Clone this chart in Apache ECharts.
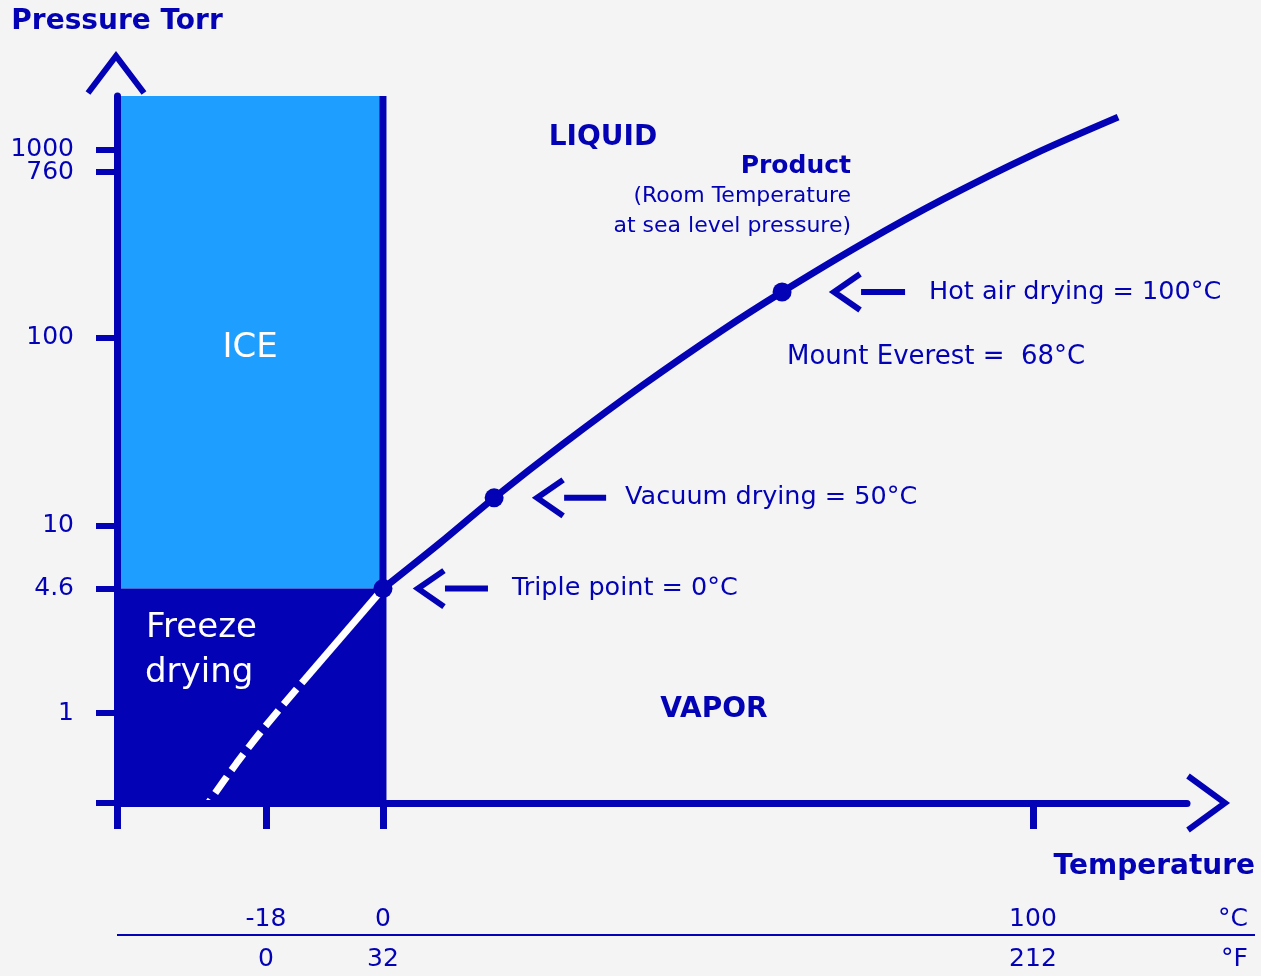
<!DOCTYPE html>
<html>
<head>
<meta charset="utf-8">
<script src="https://cdn.jsdelivr.net/npm/echarts@6/dist/echarts.min.js"></script>
<style>
html,body{margin:0;padding:0;background:#f4f4f4;}
#chart{width:1261px;height:976px;}
</style>
</head>
<body>
<div id="chart"></div>
<script>
// ---------- data ----------
const pressureTicks = [1, 4.6, 10, 100, 760, 1000];            // Torr
const pressureTickLabels = ['1', '4.6', '10', '100', '760', '1000'];
const celsiusTicks = [-18, 0, 100];
const celsiusTickLabels = ['-18', '0', '100'];
const fahrenheitTickLabels = ['0', '32', '212'];

// vaporization curve (schematic)
const vaporTemp = [0, 8.77, 17.1, 27.7, 40.0, 52.3, 61.4, 73.9, 86.2, 100.0, 113.1];
const vaporPressure = [4.6, 8.05, 14.0, 27.1, 55.9, 110, 175, 318, 546, 944, 1494];

// sublimation curve (white, below triple point)
const sublSolidTemp = [0, -12.5];
const sublSolidPressure = [4.6, 1.445];
const sublDashTemp = [-12.5, -18.2, -22.5, -26.9];
const sublDashPressure = [1.445, 0.842, 0.542, 0.331];

// marked points with callouts
const calloutNames = ['Triple point = 0°C', 'Vacuum drying = 50°C', 'Hot air drying = 100°C'];
const calloutTemp = [0, 17.1, 61.4];
const calloutPressure = [4.6, 14.0, 175];

// axis extents
const tempMin = -40.92, tempMax = 123.7;
const pressureMin = 0.3316, pressureMax = 1936;
const triplePressure = 4.6, tripleTemp = 0;

// ---------- helpers / styles ----------
const DARK = '#0303b5', LIGHT = '#1e9eff', BG = '#f4f4f4';
const FONT = '"DejaVu Sans", sans-serif';
const L = v => Math.round(Math.log10(v) * 1e9) / 1e9;
const yMin = L(pressureMin), yMax = L(pressureMax);
const pair = (ts, ps) => ts.map((t, i) => [t, L(ps[i])]);
const labelFor = v => {
  const i = pressureTicks.findIndex(p => Math.abs(L(p) - v) < 1e-6);
  return i < 0 ? '' : pressureTickLabels[i];
};
// 760 sits very close to 1000, so it is drawn by a twin axis to avoid label culling
const crowded = [760];
const mainTicks = pressureTicks.filter(p => crowded.indexOf(p) < 0);
const calloutOffsets = [
  {tip: 35, end: 105, text: 129},
  {tip: 43, end: 112, text: 131},
  {tip: 52, end: 123, text: 147}
];
const regions = [
  {bounds: [tempMin, tripleTemp, L(triplePressure), yMax], color: LIGHT},
  {bounds: [tempMin, tripleTemp, yMin, L(triplePressure)], color: DARK}
];

const chart = echarts.init(document.getElementById('chart'), null, {renderer: 'canvas'});

const yLabelStyle = {color: DARK, fontFamily: FONT, fontSize: 25};

const option = {
  backgroundColor: BG,
  animation: false,
  grid: {left: 117, top: 96, width: 1070, height: 707, containLabel: false, outerBoundsMode: 'none'},
  xAxis: {
    type: 'value', min: tempMin, max: tempMax, z: 6,
    splitLine: {show: false},
    axisLine: {show: true, onZero: false, lineStyle: {color: DARK, width: 7}},
    axisTick: {show: true, customValues: [tempMin].concat(celsiusTicks), length: 26, lineStyle: {color: DARK, width: 7}},
    axisLabel: {
      show: true, customValues: celsiusTicks, margin: 96, hideOverlap: false,
      color: DARK, fontFamily: FONT, fontSize: 25, lineHeight: 40,
      formatter: function (v) {
        let i = celsiusTicks.findIndex(c => Math.abs(c - v) < 1e-6);
        return i < 0 ? '' : celsiusTickLabels[i] + '\n' + fahrenheitTickLabels[i];
      }
    }
  },
  yAxis: [{
    type: 'value', position: 'left', min: yMin, max: yMax, z: 6,
    name: 'Pressure Torr', nameLocation: 'end', nameGap: 60, nameMoveOverlap: false,
    nameTextStyle: {color: DARK, fontFamily: FONT, fontSize: 28, fontWeight: 'bold', align: 'center'},
    splitLine: {show: false},
    axisLine: {show: true, onZero: false, lineStyle: {color: DARK, width: 7}},
    axisTick: {show: true, interval: 0, customValues: [yMin].concat(mainTicks.map(L)), length: 21, lineStyle: {color: DARK, width: 6}},
    axisLabel: Object.assign({show: true, interval: 0, customValues: mainTicks.map(L), margin: 43, hideOverlap: false, formatter: labelFor}, yLabelStyle)
  }, {
    type: 'value', position: 'right', offset: -1070, min: yMin, max: yMax, z: 6,
    splitLine: {show: false},
    axisLine: {show: false, onZero: false},
    axisTick: {show: true, inside: true, interval: 0, customValues: crowded.map(L), length: 21, lineStyle: {color: DARK, width: 6}},
    axisLabel: Object.assign({show: true, inside: true, interval: 0, customValues: crowded.map(L), margin: 43, hideOverlap: false, formatter: labelFor}, yLabelStyle)
  }],
  series: [
    {
      name: 'regions', type: 'custom', z: 1, silent: true,
      data: regions.map(r => r.bounds),
      renderItem: function (params, api) {
        const a = api.coord([api.value(0), api.value(3)]);
        const b = api.coord([api.value(1), api.value(2)]);
        return {type: 'rect', shape: {x: a[0], y: a[1], width: b[0] - a[0], height: b[1] - a[1]},
          style: {fill: regions[params.dataIndex].color}};
      }
    },
    {
      name: 'melting line', type: 'line', z: 3, showSymbol: false, silent: true,
      data: [[tripleTemp, yMin], [tripleTemp, yMax]],
      lineStyle: {color: DARK, width: 7}
    },
    {
      name: 'sublimation solid', type: 'line', z: 4, showSymbol: false, silent: true,
      data: pair(sublSolidTemp, sublSolidPressure),
      lineStyle: {color: '#ffffff', width: 7}
    },
    {
      name: 'sublimation dashed', type: 'line', z: 4, showSymbol: false, silent: true, smooth: 0.3,
      data: pair(sublDashTemp, sublDashPressure),
      lineStyle: {color: '#ffffff', width: 7, type: [20, 8], dashOffset: 20}
    },
    {
      name: 'vaporization', type: 'line', z: 4, showSymbol: false, silent: true, smooth: 0.3,
      data: pair(vaporTemp, vaporPressure),
      lineStyle: {color: DARK, width: 7, cap: 'butt'}
    },
    {
      name: 'points', type: 'scatter', z: 5, symbolSize: 19, silent: true,
      data: pair(calloutTemp, calloutPressure),
      itemStyle: {color: DARK, opacity: 1}
    },
    {
      name: 'callouts', type: 'custom', z: 5, silent: true,
      data: pair(calloutTemp, calloutPressure),
      renderItem: function (params, api) {
        const p = api.coord([api.value(0), api.value(1)]);
        const o = calloutOffsets[params.dataIndex];
        const tx = p[0] + o.tip;
        return {type: 'group', children: [
          {type: 'polyline', shape: {points: [[tx + 26, p[1] - 18], [tx, p[1]], [tx + 26, p[1] + 18]]},
            style: {stroke: DARK, lineWidth: 6, fill: null}},
          {type: 'line', shape: {x1: tx + 27, y1: p[1], x2: p[0] + o.end, y2: p[1]},
            style: {stroke: DARK, lineWidth: 6}},
          {type: 'text', x: p[0] + o.text, y: p[1],
            style: {text: calloutNames[params.dataIndex], fill: DARK, font: '25.5px ' + FONT, align: 'left', verticalAlign: 'middle'}}
        ]};
      }
    }
  ],
  graphic: [
    {type: 'polyline', shape: {points: [[88, 93], [116, 56], [144, 93]]}, style: {stroke: DARK, lineWidth: 6, fill: null}, z: 10},
    {type: 'polyline', shape: {points: [[1188, 776], [1225, 803], [1188, 830]]}, style: {stroke: DARK, lineWidth: 6, fill: null}, z: 10},
    {type: 'line', shape: {x1: 117, y1: 935, x2: 1255, y2: 935}, style: {stroke: DARK, lineWidth: 2}, z: 10},
    {type: 'text', x: 1255, y: 867, style: {text: 'Temperature', fill: DARK, font: 'bold 28px ' + FONT, align: 'right', verticalAlign: 'middle'}, z: 10},
    {type: 'text', x: 1248, y: 919, style: {text: '°C', fill: DARK, font: '25px ' + FONT, align: 'right', verticalAlign: 'middle'}, z: 10},
    {type: 'text', x: 1248, y: 959, style: {text: '°F', fill: DARK, font: '25px ' + FONT, align: 'right', verticalAlign: 'middle'}, z: 10},
    {type: 'text', x: 603, y: 138, style: {text: 'LIQUID', fill: DARK, font: 'bold 28px ' + FONT, align: 'center', verticalAlign: 'middle'}, z: 10},
    {type: 'text', x: 851, y: 166, style: {text: 'Product', fill: DARK, font: 'bold 25px ' + FONT, align: 'right', verticalAlign: 'middle'}, z: 10},
    {type: 'text', x: 851, y: 196, style: {text: '(Room Temperature', fill: DARK, font: '22px ' + FONT, align: 'right', verticalAlign: 'middle'}, z: 10},
    {type: 'text', x: 851, y: 226, style: {text: 'at sea level pressure)', fill: DARK, font: '22px ' + FONT, align: 'right', verticalAlign: 'middle'}, z: 10},
    {type: 'text', x: 787, y: 357, style: {text: 'Mount Everest =  68°C', fill: DARK, font: '26px ' + FONT, align: 'left', verticalAlign: 'middle'}, z: 10},
    {type: 'text', x: 714, y: 710, style: {text: 'VAPOR', fill: DARK, font: 'bold 28px ' + FONT, align: 'center', verticalAlign: 'middle'}, z: 10},
    {type: 'text', x: 250, y: 348, style: {text: 'ICE', fill: '#ffffff', font: '34px ' + FONT, align: 'center', verticalAlign: 'middle'}, z: 10},
    {type: 'text', x: 146, y: 628, style: {text: 'Freeze', fill: '#ffffff', font: '34px ' + FONT, align: 'left', verticalAlign: 'middle'}, z: 10},
    {type: 'text', x: 145, y: 673, style: {text: 'drying', fill: '#ffffff', font: '34px ' + FONT, align: 'left', verticalAlign: 'middle'}, z: 10}
  ]
};
chart.setOption(option);
</script>
</body>
</html>
